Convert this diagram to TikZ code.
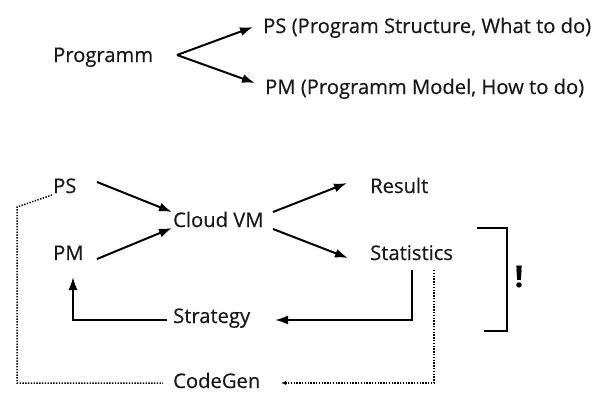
\documentclass[tikz,border=0pt]{standalone}
\usepackage{fontspec}
\setmainfont{Open Sans}[FakeBold=0.5]
\usetikzlibrary{calc,arrows.meta}
\begin{document}
\begin{tikzpicture}[x=1pt,y=-1pt,
  lbl/.style={anchor=base west,inner sep=0pt,font=\fontsize{20.2}{23}\selectfont,text=black!90},
  arr/.style={line width=2pt,-{Latex[length=13pt,width=9pt]}},
  flow/.style={line width=2pt},
  dots/.style={line width=1.5pt,dash pattern=on 1.4pt off 1.4pt},
]
\useasboundingbox (0,0) rectangle (598,392);
% top part
\node[lbl] (prog) at (53,62) {Programm};
\node[lbl] (ps1) at (263,33) {PS (Program Structure, What to do)};
\node[lbl] (pm1) at (265,94) {PM (Programm Model, How to do)};
\coordinate (fork) at ($(prog.base west)+(124,-7)$);
\draw[arr] (fork) -- ($(ps1.base west)+(-10,-6)$);
\draw[arr] (fork) -- ($(pm1.base west)+(-10,-11)$);
% bottom part
\node[lbl] (ps) at (53,193) {PS};
\node[lbl] (pm) at (53,260) {PM};
\node[lbl] (vm) at (173,227) {Cloud VM};
\node[lbl] (res) at (370,193) {Result};
\node[lbl] (stat) at (370,260) {Statistics};
\node[lbl] (strat) at (173,323) {Strategy};
\node[lbl] (cg) at (173,388) {CodeGen};
\node[anchor=base,inner sep=0pt,font=\fontsize{30}{32}\selectfont\bfseries] (bang) at (519,287) {!};
\draw[arr] ($(ps.base west)+(44,-11)$) -- ($(vm.base west)+(-1,-15)$);
\draw[arr] ($(pm.base west)+(44,-1)$) -- ($(vm.base west)+(-1,1)$);
\draw[arr] ($(vm.base west)+(100,-15)$) -- ($(res.base west)+(-23,-10)$);
\draw[arr] ($(vm.base west)+(100,2)$) -- ($(stat.base west)+(-22,-2)$);
\draw[arr] ($(stat.base west)+(42,10)$) |- ($(strat.base west)+(102,-3)$);
\draw[arr] ($(strat.base west)+(-6,-3)$) -| ($(pm.base west)+(20,17)$);
\draw[dots] ($(ps.base west)+(-1,2)$) -- (17,207) -- (17,383) -- ($(cg.base west)+(-10,-5)$);
\draw[dots,-{Latex[length=5pt,width=4pt]}] ($(stat.base west)+(64,10)$) |- ($(cg.base west)+(108,-5)$);
\draw[flow] ($(bang.base)+(-42,-59)$) -- ($(bang.base)+(-12,-59)$) -- ($(bang.base)+(-12,44)$) -- ($(bang.base)+(-35,44)$);
\end{tikzpicture}
\end{document}
